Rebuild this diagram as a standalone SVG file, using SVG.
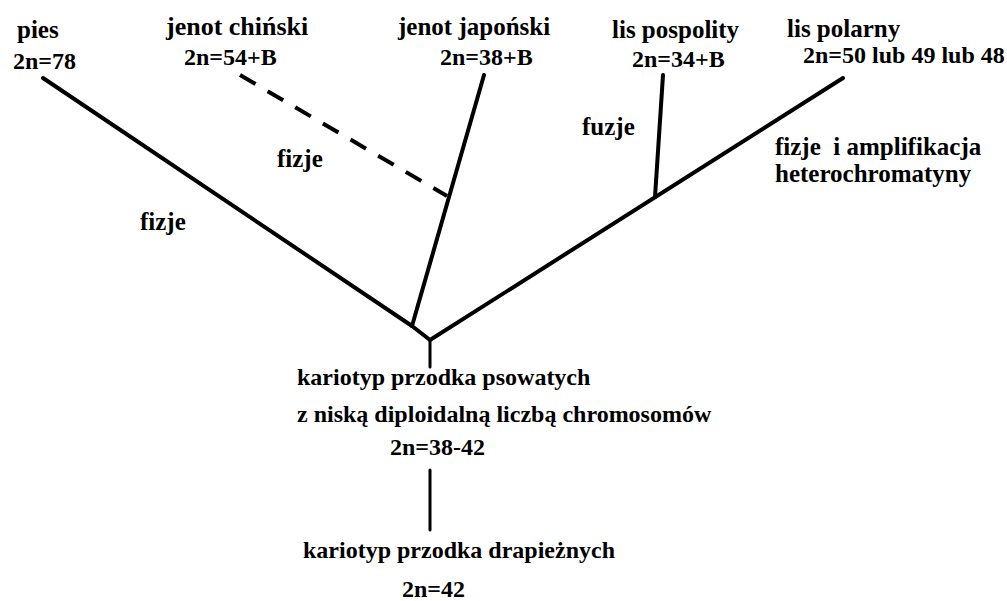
<svg xmlns="http://www.w3.org/2000/svg" width="1007" height="601" viewBox="0 0 1007 601">
<rect width="1007" height="601" fill="#fff"/>
<g id="connectors" stroke="#000" stroke-width="4" fill="none" stroke-linecap="round" stroke-linejoin="round">
<polyline points="43,78 412,326 430,340 843,78"/>
<line x1="412" y1="326" x2="484" y2="75"/>
<line x1="240" y1="75" x2="447" y2="196" stroke-dasharray="18 14" stroke-linecap="butt"/>
<line x1="663" y1="75" x2="655" y2="197"/>
<line x1="430" y1="340" x2="430" y2="367" stroke-width="3"/>
<line x1="430" y1="470" x2="430" y2="530" stroke-width="3"/>
</g>
<g id="pies"><text x="17" y="38" font-family="Liberation Serif" font-weight="bold" font-size="25">pies</text><text x="13" y="69" font-family="Liberation Serif" font-weight="bold" font-size="24">2n=78</text></g>
<g id="jenot-chinski"><text x="166" y="35" font-family="Liberation Serif" font-weight="bold" font-size="26">jenot chiński</text><text x="184" y="65" font-family="Liberation Serif" font-weight="bold" font-size="24">2n=54+B</text></g>
<g id="jenot-japonski"><text x="398" y="35" font-family="Liberation Serif" font-weight="bold" font-size="25">jenot japoński</text><text x="440" y="65" font-family="Liberation Serif" font-weight="bold" font-size="24">2n=38+B</text></g>
<g id="lis-pospolity"><text x="612" y="38" font-family="Liberation Serif" font-weight="bold" font-size="25">lis pospolity</text><text x="632" y="67" font-family="Liberation Serif" font-weight="bold" font-size="24">2n=34+B</text></g>
<g id="lis-polarny"><text x="787" y="37" font-family="Liberation Serif" font-weight="bold" font-size="25">lis polarny</text><text x="803" y="63" font-family="Liberation Serif" font-weight="bold" font-size="24">2n=50 lub 49 lub 48</text></g>
<g id="label-fizje-1"><text x="140" y="230" font-family="Liberation Serif" font-weight="bold" font-size="25">fizje</text></g>
<g id="label-fizje-2"><text x="277" y="167" font-family="Liberation Serif" font-weight="bold" font-size="25">fizje</text></g>
<g id="label-fuzje"><text x="582" y="135" font-family="Liberation Serif" font-weight="bold" font-size="25">fuzje</text></g>
<g id="label-fizje-amp"><text x="775" y="155" font-family="Liberation Serif" font-weight="bold" font-size="25" xml:space="preserve">fizje  i amplifikacja</text><text x="775" y="182" font-family="Liberation Serif" font-weight="bold" font-size="25">heterochromatyny</text></g>
<g id="przodek-psowatych"><text x="297" y="385" font-family="Liberation Serif" font-weight="bold" font-size="24">kariotyp przodka psowatych</text><text x="297" y="422" font-family="Liberation Serif" font-weight="bold" font-size="24">z niską diploidalną liczbą chromosomów</text><text x="390" y="455" font-family="Liberation Serif" font-weight="bold" font-size="24">2n=38-42</text></g>
<g id="przodek-drapieznych"><text x="303" y="558" font-family="Liberation Serif" font-weight="bold" font-size="24">kariotyp przodka drapieżnych</text><text x="402" y="597" font-family="Liberation Serif" font-weight="bold" font-size="24">2n=42</text></g>
</svg>
